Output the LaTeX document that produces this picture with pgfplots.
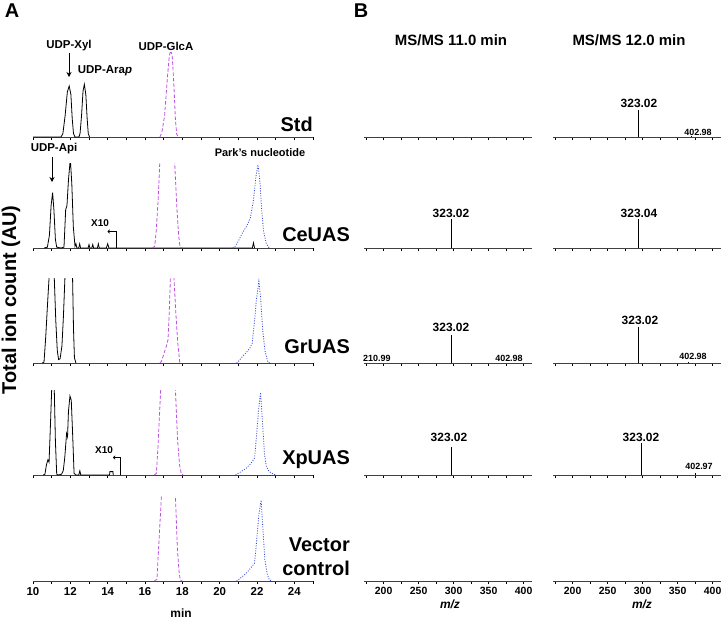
\documentclass[border=0pt]{standalone}
\usepackage{fontspec}
\setmainfont{Liberation Sans}
\usepackage{pgfplots}
\pgfplotsset{compat=1.18}
\usetikzlibrary{arrows.meta}
\newcommand\fs[1]{\fontsize{#1}{#1}\selectfont}
\definecolor{mag}{RGB}{190,80,225}
\definecolor{blu}{RGB}{50,70,215}
\pgfplotsset{
  base/.style={scale only axis, ymin=0, ymax=1, axis x line=bottom, axis y line=none,
    ytick=\empty, axis line style={-, line width=0.9pt, black!75},
    tick align=outside, major tick length=3bp, minor tick length=3bp,
    tick style={black, line width=0.7pt}, height=85bp, clip=true,
    anchor=south west, xticklabels={},
    /pgf/number format/assume math mode=true},
  pa/.style={base, width=280bp, xmin=10, xmax=25, xtick={10,12,...,24}, minor xtick={11,13,...,25}},
  pb/.style={base, width=168bp, xmin=172, xmax=412, xtick={200,250,...,400}, minor xtick={175,225,...,400}},
  blk/.style={black, line width=0.8pt, mark=none},
  mg/.style={mag, line width=0.8pt, dash pattern=on 3.5bp off 2bp, mark=none},
  bl/.style={blu, line width=0.8pt, dash pattern=on 1bp off 1.5bp, mark=none},
  stem/.style={ycomb, black, line width=0.9pt, mark=none},
}
\begin{document}
\begin{tikzpicture}
\path[use as bounding box] (0,0) rectangle (725bp,-619bp);
% ===== Panel A =====
% Std
\begin{axis}[pa, at={(33bp,-137bp)}]
\addplot[blk] coordinates {(10,0)(11.5,0)(11.6,0.04)(11.72,0.25)(11.84,0.53)(11.94,0.6)(12.03,0.5)(12.1,0.22)(12.17,0.04)(12.25,0)(12.46,0)(12.52,0.04)(12.6,0.25)(12.68,0.54)(12.75,0.62)(12.83,0.5)(12.9,0.22)(12.96,0.04)(13.03,0)};
\addplot[mg] coordinates {(16.8,0)(16.9,0.05)(17.05,0.25)(17.2,0.7)(17.3,0.95)(17.38,1.02)(17.46,0.95)(17.55,0.6)(17.63,0.2)(17.7,0.03)(17.8,0)};
\end{axis}
% CeUAS
\begin{axis}[pa, at={(33bp,-248bp)}]
\addplot[blk] coordinates {(10.6,0)(10.77,0.01)(10.88,0.15)(10.97,0.5)(11.05,0.65)(11.12,0.45)(11.2,0.1)(11.27,0.01)(11.5,0)(11.66,0.01)(11.72,0.3)(11.75,0.45)(11.82,0.5)(11.9,0.8)(12.0,1.05)(12.08,0.75)(12.16,0.25)(12.25,0.02)(12.3,0.05)(12.35,0)(12.45,0)(12.5,0.05)(12.55,0)(12.95,0)(13.0,0.04)(13.05,0)(13.15,0)(13.2,0.04)(13.25,0)(13.45,0)(13.5,0.05)(13.55,0)(13.93,0)(14.0,0.05)(14.07,0)(21.75,0)(21.81,0.06)(21.87,0)};
\addplot[mg] coordinates {(16.4,0)(16.52,0.02)(16.6,0.2)(16.7,0.55)(16.79,1.0)(16.9,2)(17.2,3)(17.5,2)(17.59,1.0)(17.7,0.5)(17.8,0.15)(17.88,0.01)(18.0,0)};
\addplot[bl] coordinates {(20.7,0)(20.8,0.01)(21.0,0.08)(21.2,0.17)(21.45,0.26)(21.65,0.36)(21.8,0.55)(21.95,0.85)(22.05,0.98)(22.15,0.8)(22.25,0.45)(22.35,0.2)(22.5,0.05)(22.65,0)};
\end{axis}
% GrUAS
\begin{axis}[pa, at={(33bp,-363bp)}]
\addplot[blk] coordinates {(10.5,0)(10.59,0.01)(10.68,0.3)(10.78,0.7)(10.86,1.0)(11.0,1.8)(11.14,1.0)(11.22,0.5)(11.3,0.15)(11.37,0.04)(11.45,0.05)(11.55,0.2)(11.63,0.55)(11.71,1.0)(11.9,1.8)(12.12,1.0)(12.17,0.4)(12.22,0.06)(12.3,0)};
\addplot[mg] coordinates {(16.8,0)(16.88,0.02)(17.0,0.1)(17.12,0.18)(17.23,0.27)(17.3,0.6)(17.36,1.0)(17.45,1.5)(17.55,1.0)(17.65,0.6)(17.75,0.25)(17.86,0.01)(17.95,0)};
\addplot[bl] coordinates {(20.9,0)(20.97,0.01)(21.2,0.07)(21.45,0.13)(21.6,0.17)(21.74,0.23)(21.85,0.45)(21.97,0.75)(22.1,0.96)(22.2,0.75)(22.3,0.4)(22.42,0.15)(22.58,0.01)(22.7,0)};
\end{axis}
% XpUAS
\begin{axis}[pa, at={(33bp,-475bp)}]
\addplot[blk] coordinates {(10.55,0)(10.64,0.01)(10.72,0.12)(10.8,0.18)(10.86,0.15)(10.92,0.5)(11.0,1.0)(11.07,1.6)(11.14,1.0)(11.2,0.4)(11.27,0.01)(11.35,0)(11.53,0.01)(11.62,0.05)(11.7,0.2)(11.8,0.49)(11.85,0.45)(11.9,0.75)(11.98,0.93)(12.05,0.88)(12.12,0.5)(12.2,0.02)(12.3,0)(12.45,0)(12.51,0.05)(12.56,0)(14.1,0)(14.12,0.04)(14.28,0.04)(14.3,0)};
\addplot[mg] coordinates {(16.5,0)(16.61,0.02)(16.7,0.35)(16.84,1.0)(17.2,3)(17.63,1.0)(17.75,0.4)(17.85,0.12)(17.95,0.01)(18.05,0)};
\addplot[bl] coordinates {(20.85,0)(20.92,0.01)(21.15,0.04)(21.42,0.08)(21.65,0.13)(21.87,0.2)(21.97,0.45)(22.08,0.75)(22.19,0.97)(22.3,0.6)(22.4,0.25)(22.5,0.1)(22.65,0.04)(22.88,0.01)(23,0)};
\end{axis}
% Vector control
\begin{axis}[pa, at={(33bp,-581bp)}, xticklabels={10,12,14,16,18,20,22,24},
  xticklabel style={font=\bfseries\fs{11.5}}]
\addplot[mg] coordinates {(16.5,0)(16.64,0.02)(16.72,0.35)(16.88,1.0)(17.25,3)(17.63,1.0)(17.73,0.4)(17.82,0.12)(17.89,0.01)(18.0,0)};
\addplot[bl] coordinates {(20.9,0)(20.97,0.01)(21.2,0.05)(21.42,0.09)(21.65,0.15)(21.87,0.21)(21.97,0.45)(22.1,0.78)(22.22,0.95)(22.32,0.6)(22.42,0.25)(22.55,0.08)(22.67,0.01)(22.8,0)};
\end{axis}
% ===== Panel B =====
\begin{axis}[pb, at={(364bp,-137bp)}]
\addplot[draw=none] coordinates {(200,0)};
\end{axis}
\begin{axis}[pb, at={(553bp,-137bp)}]
\addplot[stem] coordinates {(294,0.32)(370,0.015)};
\end{axis}
\begin{axis}[pb, at={(364bp,-248bp)}]
\addplot[stem] coordinates {(297.6,0.34)};
\end{axis}
\begin{axis}[pb, at={(553bp,-248bp)}]
\addplot[stem] coordinates {(294,0.34)};
\end{axis}
\begin{axis}[pb, at={(364bp,-363bp)}]
\addplot[stem] coordinates {(297.6,0.33)};
\end{axis}
\begin{axis}[pb, at={(553bp,-363bp)}]
\addplot[stem] coordinates {(293.5,0.42)(294.5,0.06)(366,0.012)};
\end{axis}
\begin{axis}[pb, at={(364bp,-475bp)}]
\addplot[stem] coordinates {(297.6,0.33)};
\end{axis}
\begin{axis}[pb, at={(553bp,-475bp)}]
\addplot[stem] coordinates {(298,0.38)(375,0.02)};
\end{axis}
\begin{axis}[pb, at={(364bp,-581bp)}, xticklabels={200,250,300,350,400},
  xticklabel style={font=\bfseries\fs{10.5}}]
\addplot[draw=none] coordinates {(200,0)};
\end{axis}
\begin{axis}[pb, at={(553bp,-581bp)}, xticklabels={200,250,300,350,400},
  xticklabel style={font=\bfseries\fs{10.5}}]
\addplot[draw=none] coordinates {(200,0)};
\end{axis}
% ===== Text =====
\node[font=\bfseries\fs{20}] at (12bp,-11bp) {A};
\node[font=\bfseries\fs{20}] at (361bp,-11bp) {B};
\node[font=\bfseries\fs{20}, rotate=90] at (11bp,-300bp) {Total ion count (AU)};
\node[font=\bfseries\fs{12}] at (181bp,-613bp) {min};
\node[font=\bfseries\itshape\fs{12}] at (450bp,-604bp) {m/z};
\node[font=\bfseries\itshape\fs{12}] at (642bp,-604bp) {m/z};
% row labels
\node[font=\bfseries\fs{20}, anchor=east, inner sep=0pt] at (313bp,-124bp) {Std};
\node[font=\bfseries\fs{20}, anchor=east, inner sep=0pt] at (350bp,-235bp) {CeUAS};
\node[font=\bfseries\fs{20}, anchor=east, inner sep=0pt] at (350bp,-347bp) {GrUAS};
\node[font=\bfseries\fs{20}, anchor=east, inner sep=0pt] at (350bp,-460bp) {XpUAS};
\node[font=\bfseries\fs{20}, anchor=east, inner sep=0pt] at (350bp,-545bp) {Vector};
\node[font=\bfseries\fs{20}, anchor=east, inner sep=0pt] at (350bp,-568bp) {control};
% peak annotations
\node[font=\bfseries\fs{11.5}] at (69bp,-46bp) {UDP-Xyl};
\draw[line width=0.8pt, -{Stealth[length=5bp,width=5bp]}] (69bp,-53bp) -- (69bp,-77bp);
\node[font=\bfseries\fs{11.5}] at (105bp,-71bp) {UDP-Ara\textit{p}};
\node[font=\bfseries\fs{11.5}] at (166bp,-46bp) {UDP-GlcA};
\node[font=\bfseries\fs{11.5}] at (54bp,-149bp) {UDP-Api};
\draw[line width=0.8pt, -{Stealth[length=5bp,width=5bp]}] (52bp,-157bp) -- (52bp,-182bp);
\node[font=\bfseries\fs{11}] at (260bp,-153bp) {Park’s nucleotide};
\node[font=\bfseries\fs{10}] at (100bp,-223bp) {X10};
\draw[line width=0.7pt, -{To[length=2.5bp,width=4bp]}] (116bp,-248bp) -- (116bp,-231.5bp) -- (107.5bp,-231.5bp);
\node[font=\bfseries\fs{10}] at (104bp,-450bp) {X10};
\draw[line width=0.7pt, -{To[length=2.5bp,width=4bp]}] (120.7bp,-475bp) -- (120.7bp,-457.5bp) -- (113bp,-457.5bp);
% panel B titles and labels
\node[font=\bfseries\fs{15}] at (451bp,-40bp) {MS/MS 11.0 min};
\node[font=\bfseries\fs{15}] at (629bp,-40bp) {MS/MS 12.0 min};
\node[font=\bfseries\fs{12}] at (639bp,-103bp) {323.02};
\node[font=\bfseries\fs{9}] at (698bp,-132bp) {402.98};
\node[font=\bfseries\fs{12}] at (451bp,-213bp) {323.02};
\node[font=\bfseries\fs{12}] at (639bp,-213bp) {323.04};
\node[font=\bfseries\fs{12}] at (451bp,-327bp) {323.02};
\node[font=\bfseries\fs{9}, anchor=west, inner sep=0pt] at (363bp,-358bp) {210.99};
\node[font=\bfseries\fs{9}] at (509bp,-358bp) {402.98};
\node[font=\bfseries\fs{12}] at (640bp,-320bp) {323.02};
\node[font=\bfseries\fs{9}] at (693bp,-356bp) {402.98};
\node[font=\bfseries\fs{12}] at (449bp,-437bp) {323.02};
\node[font=\bfseries\fs{12}] at (641bp,-437bp) {323.02};
\node[font=\bfseries\fs{9}] at (699bp,-466bp) {402.97};
\end{tikzpicture}
\end{document}
